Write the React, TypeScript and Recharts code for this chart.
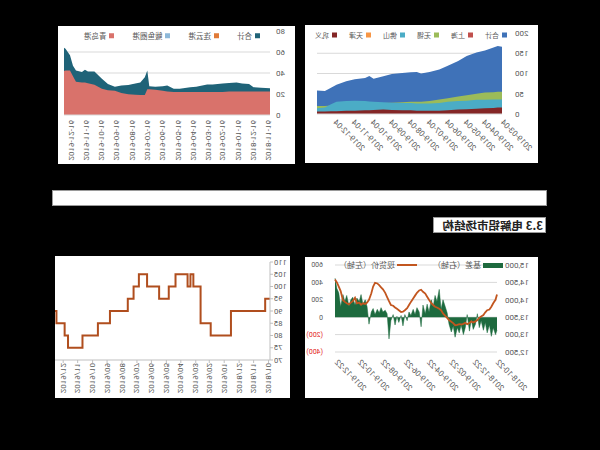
import {
  AreaChart,
  Area,
  ComposedChart,
  Line,
  LineChart,
  XAxis,
  YAxis,
  CartesianGrid,
} from "recharts";

const FONT = "Roboto, 'Noto Sans CJK SC', sans-serif";
const CJK = "'Noto Sans CJK SC', sans-serif";
const GREY = "#595959";
const GRID = "#d9d9d9";

const t = (d: string) => Date.parse(d);
const isoDay = (v: number) => new Date(v).toISOString().slice(0, 10);
const isoMonth = (v: number) => isoDay(v).slice(0, 7).replace("-", "/");

// 分地区社会库存
const cityNames = ["合计", "上海", "无锡", "佛山", "天津", "巩义"];
const cityDates = [
  "2019-03-04", "2019-03-11", "2019-03-18", "2019-04-01", "2019-04-15",
  "2019-05-01", "2019-05-15", "2019-06-01", "2019-06-15", "2019-07-01",
  "2019-07-15", "2019-07-22", "2019-08-01", "2019-08-15", "2019-09-01",
  "2019-09-15", "2019-10-01", "2019-10-08", "2019-10-15", "2019-11-01",
  "2019-11-15", "2019-12-01", "2019-12-10", "2019-12-20", "2020-01-02",
];
const cityTotal = [166, 168, 164, 157, 152, 143, 131, 119, 110, 104, 100, 104, 103, 101, 99, 93, 87, 94, 89, 86, 81, 72, 65, 57, 58];
const cityShanghai = [14, 14, 14, 13, 13, 12, 12, 11, 11, 10, 10, 10, 10, 10, 11, 11, 12, 12, 12, 12, 11, 11, 10, 10, 10];
const cityWuxi = [55, 55, 54, 53, 50, 46, 43, 39, 36, 32, 30, 30, 30, 29, 28, 27, 26, 26, 25, 24, 23, 22, 21, 20, 20];
const cityFoshan = [36, 36, 36, 35, 35, 33, 32, 30, 27, 26, 26, 26, 27, 27, 28, 29, 30, 31, 32, 33, 32, 30, 24, 16, 14];
const cityTianjin = [6, 6, 6, 5, 5, 5, 5, 4, 4, 4, 4, 4, 4, 4, 4, 4, 4, 4, 4, 4, 4, 3, 3, 3, 3];
const cityGongyi = [16, 16, 15, 14, 13, 12, 11, 9, 8, 8, 8, 8, 9, 9, 10, 11, 10, 9, 9, 8, 8, 7, 7, 6, 6];
const cityTicks = [
  "2019-03-04", "2019-04-04", "2019-05-04", "2019-06-04", "2019-07-04",
  "2019-08-04", "2019-09-04", "2019-10-04", "2019-11-04", "2019-12-04",
];

// 港口库存
const portNames = ["合计", "连云港", "鲅鱼圈港", "青岛港"];
const portDates = [
  "2018-11-13", "2018-12-01", "2018-12-16", "2018-12-25", "2019-01-08", "2019-01-19",
  "2019-02-03", "2019-02-16", "2019-03-08", "2019-03-19", "2019-04-10", "2019-04-22",
  "2019-05-13", "2019-05-25", "2019-06-07", "2019-06-16", "2019-07-01", "2019-07-13",
  "2019-07-17", "2019-07-22", "2019-07-31", "2019-08-10", "2019-08-24", "2019-09-07",
  "2019-09-20", "2019-10-04", "2019-10-16", "2019-10-31", "2019-11-13", "2019-11-19",
  "2019-11-25", "2019-12-07", "2019-12-13", "2019-12-19", "2019-12-28", "2019-12-31",
];
const portTotal = [25.5, 26, 26.5, 29.5, 30, 31, 30.5, 30, 29, 29, 27, 26.5, 25, 25, 28, 27.5, 27, 27.5, 42.5, 36, 31, 30, 28.5, 28, 27, 29.5, 34.5, 41.5, 41.5, 43, 41, 42.5, 47, 57, 63, 64];
const portLianyun = [2, 2, 2.5, 4, 4.5, 5, 5, 5, 4, 4, 3, 2.5, 2, 2, 3, 2.5, 2, 2, 10, 9, 7, 6, 5, 4, 2.5, 3.5, 5.5, 7, 6, 7, 6, 6, 6, 8, 11, 12];
const portBayuquan = [1, 1.5, 1.5, 3, 3, 3.5, 3, 3, 3, 3, 2, 2, 1, 1, 2.5, 2, 1, 1, 8, 8, 5, 4.8, 3.7, 3, 1.5, 2.5, 4, 5.7, 5.2, 5, 4, 4.9, 4, 6.5, 9.5, 10];
const portQingdao = [22.5, 22.5, 22.5, 22.5, 22.5, 22.5, 22.5, 22, 22, 22, 22, 22, 22, 22, 22.5, 23, 24, 24.5, 24.5, 19, 19, 19.2, 19.8, 21, 23, 23.5, 25, 28.8, 30.3, 31, 31, 31.6, 37, 42.5, 42.5, 42];
const portTicks = [
  "2018-11-16", "2018-12-16", "2019-01-16", "2019-02-16", "2019-03-16", "2019-04-16", "2019-05-16",
  "2019-06-16", "2019-07-16", "2019-08-16", "2019-09-16", "2019-10-16", "2019-11-16", "2019-12-16",
];

// 现货价与基差
const spotNames = ["基差（右轴）", "现货价（左轴）"];
const spotDates = [
  "2018-10-22", "2018-10-26", "2018-11-01", "2018-11-06", "2018-11-11", "2018-11-17", "2018-11-22",
  "2018-11-27", "2018-12-03", "2018-12-08", "2018-12-13", "2018-12-18", "2018-12-24", "2018-12-29",
  "2019-01-03", "2019-01-09", "2019-01-14", "2019-01-19", "2019-01-25", "2019-01-30", "2019-02-04",
  "2019-02-10", "2019-02-15", "2019-02-20", "2019-02-26", "2019-03-03", "2019-03-08", "2019-03-14",
  "2019-03-19", "2019-03-24", "2019-03-30", "2019-04-04", "2019-04-09", "2019-04-14", "2019-04-20",
  "2019-04-25", "2019-04-30", "2019-05-06", "2019-05-11", "2019-05-16", "2019-05-22", "2019-05-27",
  "2019-06-01", "2019-06-07", "2019-06-12", "2019-06-17", "2019-06-23", "2019-06-28", "2019-07-03",
  "2019-07-09", "2019-07-14", "2019-07-19", "2019-07-24", "2019-07-30", "2019-08-04", "2019-08-09",
  "2019-08-14", "2019-08-20", "2019-08-25", "2019-08-30", "2019-09-04", "2019-09-10", "2019-09-15",
  "2019-09-20", "2019-09-26", "2019-10-01", "2019-10-06", "2019-10-12", "2019-10-17", "2019-10-22",
  "2019-10-28", "2019-11-02", "2019-11-08", "2019-11-13", "2019-11-18", "2019-11-24", "2019-11-29",
  "2019-12-04", "2019-12-10", "2019-12-15", "2019-12-20", "2019-12-25",
];
const spotPrice = [
  14150, 14000, 13900, 13800, 13720, 13700, 13640, 13560, 13520, 13480, 13420, 13380, 13350, 13380,
  13330, 13300, 13340, 13310, 13290, 13300, 13280, 13270, 13330, 13370, 13420, 13480, 13540, 13610,
  13700, 13740, 13780, 13800, 13850, 13900, 14000, 14090, 14180, 14230, 14290, 14270, 14200, 14120,
  14040, 13940, 13850, 13760, 13700, 13660, 13650, 13700, 13740, 13780, 13830, 13850, 13960, 14080,
  14200, 14300, 14360, 14420, 14470, 14490, 14380, 14180, 14000, 13920, 13880, 13900, 13860, 13920,
  13900, 14060, 13960, 13920, 13870, 13900, 13940, 13990, 14250, 14380, 14500, 14580,
];
const spotBasis = [
  -150, -200, -120, -220, -90, -180, -60, -150, -40, -120, 40, -80, -140, -30,
  -160, 30, -120, -200, -90, -180, -120, -230, -100, -170, -80, 50, 120, 200,
  90, 320, 180, 250, 120, 200, 60, 150, 40, 140, -110, 60, 110, 30,
  90, 20, 60, -40, 30, -100, 20, -60, 10, -90, 30, -40, -250, 40,
  80, 60, 110, 50, 90, 30, 100, 60, -80, 120, 200, 150, 260, 180,
  220, 140, 230, 200, 130, 250, 180, 260, 120, 280, 330, 450,
];
const spotTicks = ["2018-10-22", "2018-12-22", "2019-02-22", "2019-04-22", "2019-06-22", "2019-08-22", "2019-10-22", "2019-12-22"];

// 阶梯走势
const stepDates = [
  "2018-09-28", "2018-10-08", "2018-12-18", "2019-01-29", "2019-02-19", "2019-03-06", "2019-03-12",
  "2019-03-18", "2019-04-12", "2019-04-26", "2019-05-16", "2019-06-10", "2019-06-27", "2019-07-08",
  "2019-07-20", "2019-08-26", "2019-09-20", "2019-10-22", "2019-11-21", "2019-11-28", "2019-12-15",
  "2019-12-18",
];
const stepValues = [95, 90, 80, 85, 100, 105, 100, 105, 100, 95, 100, 105, 100, 95, 90, 85, 80, 75, 80, 85, 90, 90];
const stepTicks = [
  "2018-10-01", "2018-11-01", "2018-12-01", "2019-01-01", "2019-02-01", "2019-03-01", "2019-04-01",
  "2019-05-01", "2019-06-01", "2019-07-01", "2019-08-01", "2019-09-01", "2019-10-01", "2019-11-01",
  "2019-12-01",
];

const cityColors = ["#3f72b8", "#c0504d", "#9bbb59", "#4bacc6", "#f79646", "#842626"];
const portColors = ["#1f6378", "#e07b39", "#8cb8d9", "#d9726b"];
const spotColors = ["#1d6a3e", "#c2561f"];

const cityRows = cityDates.map((d, i) => ({
  t: t(d),
  total: cityTotal[i],
  shanghai: cityShanghai[i],
  wuxi: cityWuxi[i],
  foshan: cityFoshan[i],
  tianjin: cityTianjin[i],
  gongyi: cityGongyi[i],
}));
const portRows = portDates.map((d, i) => ({
  t: t(d),
  total: portTotal[i],
  lianyun: portLianyun[i],
  bayuquan: portBayuquan[i],
  qingdao: portQingdao[i],
}));
const spotRows = spotDates.map((d, i) => ({ t: t(d), price: spotPrice[i], basis: spotBasis[i] }));
const stepRows = stepDates.map((d, i) => ({ t: t(d), v: stepValues[i] }));

function slantTick(angle: number, fmt: (v: number) => string, fontSize = 8) {
  return (p: any) => (
    <text
      x={p.x}
      y={p.y}
      transform={`rotate(${angle} ${p.x} ${p.y})`}
      textAnchor="end"
      dominantBaseline="central"
      fontSize={fontSize}
      fill={GREY}
      fontFamily={FONT}
    >
      {fmt(p.payload.value)}
    </text>
  );
}

const basisTick = (p: any) => {
  const v = p.payload.value;
  return (
    <text x={p.x} y={p.y} dy="0.35em" textAnchor="start" fontSize={7} fontFamily={FONT} fill={v < 0 ? "#e3231c" : GREY}>
      {v < 0 ? `(${-v})` : v}
    </text>
  );
};

type Key = { name: string; color: string; shape: "square" | "bar" | "line" };

function KeyRow({ keys, left, top, fontSize, gap }: { keys: Key[]; left: number; top: number; fontSize: number; gap: number }) {
  return (
    <div
      style={{
        position: "absolute",
        left,
        top,
        transform: "translateY(-50%)",
        display: "flex",
        alignItems: "center",
        fontFamily: CJK,
        fontSize,
        color: GREY,
        lineHeight: 1,
        whiteSpace: "nowrap",
      }}
    >
      {keys.map((k) => (
        <span key={k.name} style={{ display: "flex", alignItems: "center", marginRight: gap }}>
          <span
            style={{
              display: "inline-block",
              width: k.shape === "square" ? 5 : 20,
              height: k.shape === "line" ? 2 : 5,
              background: k.color,
              marginRight: k.shape === "square" ? 3 : 2,
            }}
          />
          {k.name}
        </span>
      ))}
    </div>
  );
}

function Panel({ left, top, width, height, children }: any) {
  return (
    <div style={{ position: "absolute", left, top, width, height, background: "#fff", overflow: "hidden" }}>
      {children}
    </div>
  );
}

const yTick = { fontSize: 8, fill: GREY, fontFamily: FONT };

function CityChart() {
  const keys: Key[] = cityNames.map((n, i) => ({ name: n, color: cityColors[i], shape: "square" }));
  const series = ["total", "shanghai", "wuxi", "foshan", "tianjin", "gongyi"];
  return (
    <>
      <AreaChart width={233} height={138} data={cityRows} margin={{ top: 8, right: 12, left: 0, bottom: 0 }}>
        <CartesianGrid vertical={false} stroke={GRID} horizontalValues={[50, 100, 150]} />
        <XAxis
          dataKey="t"
          type="number"
          domain={[t("2019-03-04"), t("2020-01-02")]}
          ticks={cityTicks.map(t)}
          interval={0}
          height={49}
          tickLine={false}
          tickSize={0}
          tickMargin={7}
          axisLine={{ stroke: GRID }}
          tick={slantTick(-45, isoDay)}
        />
        <YAxis width={36} domain={[0, 200]} ticks={[0, 50, 100, 150, 200]} interval={0} axisLine={false} tickLine={false} tickSize={10} tickMargin={3} tick={yTick} />
        {series.map((s, i) => (
          <Area key={s} type="linear" dataKey={s} name={cityNames[i]} stroke="none" fill={cityColors[i]} fillOpacity={1} dot={false} activeDot={false} isAnimationActive={false} />
        ))}
      </AreaChart>
      <KeyRow keys={keys} left={31} top={10} fontSize={7} gap={12} />
    </>
  );
}

function PortChart() {
  const keys: Key[] = portNames.map((n, i) => ({ name: n, color: portColors[i], shape: "square" }));
  const series = ["total", "lianyun", "bayuquan", "qingdao"];
  return (
    <>
      <AreaChart width={237} height={138} data={portRows} margin={{ top: 5, right: 6, left: 0, bottom: 0 }}>
        <CartesianGrid vertical={false} stroke={GRID} horizontalValues={[20, 40, 60]} />
        <XAxis
          dataKey="t"
          type="number"
          domain={[t("2018-11-13"), t("2019-12-31")]}
          ticks={portTicks.map(t)}
          interval={0}
          height={49}
          tickLine={false}
          tickSize={0}
          tickMargin={5}
          axisLine={{ stroke: GRID }}
          tick={slantTick(-90, isoDay)}
        />
        <YAxis width={25} domain={[0, 80]} ticks={[0, 20, 40, 60, 80]} interval={0} axisLine={false} tickLine={false} tickSize={4} tickMargin={2} tick={yTick} />
        {series.map((s, i) => (
          <Area key={s} type="linear" dataKey={s} name={portNames[i]} stroke="none" fill={portColors[i]} fillOpacity={1} dot={false} activeDot={false} isAnimationActive={false} />
        ))}
      </AreaChart>
      <KeyRow keys={keys} left={35} top={10} fontSize={7.5} gap={18} />
    </>
  );
}

function SpotChart() {
  const keys: Key[] = [
    { name: spotNames[0], color: spotColors[0], shape: "bar" },
    { name: spotNames[1], color: spotColors[1], shape: "line" },
  ];
  return (
    <>
      <ComposedChart width={233} height={141} data={spotRows} margin={{ top: 8, right: 0, left: 0, bottom: 0 }}>
        <CartesianGrid vertical={false} stroke={GRID} yAxisId="price" />
        <XAxis
          dataKey="t"
          type="number"
          domain={[t("2018-10-22"), t("2019-12-25")]}
          ticks={spotTicks.map(t)}
          interval={0}
          height={46}
          tickLine={false}
          axisLine={false}
          tickSize={0}
          tickMargin={9}
          tick={slantTick(-45, isoDay)}
        />
        <YAxis
          yAxisId="price"
          width={41}
          domain={[12500, 15000]}
          ticks={[12500, 13000, 13500, 14000, 14500, 15000]}
          interval={0}
          tickFormatter={(v: number) => v.toLocaleString("en-US")}
          axisLine={false}
          tickLine={false}
          tickSize={6}
          tickMargin={2}
          tick={yTick}
        />
        <YAxis
          yAxisId="basis"
          orientation="right"
          width={30}
          domain={[-400, 600]}
          ticks={[-400, -200, 0, 200, 400, 600]}
          interval={0}
          axisLine={false}
          tickLine={false}
          tickSize={8}
          tickMargin={4}
          tick={basisTick}
        />
        <Area yAxisId="basis" type="linear" dataKey="basis" name={spotNames[0]} stroke={spotColors[0]} strokeWidth={0.5} fill={spotColors[0]} fillOpacity={1} dot={false} activeDot={false} isAnimationActive={false} />
        <Line yAxisId="price" type="linear" dataKey="price" name={spotNames[1]} stroke={spotColors[1]} strokeWidth={1.8} dot={false} activeDot={false} isAnimationActive={false} />
      </ComposedChart>
      <KeyRow keys={keys} left={35} top={8} fontSize={8} gap={16} />
    </>
  );
}

function StepChart() {
  return (
    <LineChart width={235} height={142} data={stepRows} margin={{ top: 6, right: 0, left: 0, bottom: 0 }}>
      <XAxis
        dataKey="t"
        type="number"
        domain={[t("2018-09-28"), t("2019-12-18")]}
        ticks={stepTicks.map(t)}
        interval={0}
        height={38}
        axisLine={{ stroke: "#bfbfbf" }}
        tickLine={{ stroke: "#bfbfbf" }}
        tickSize={3}
        tickMargin={0}
        tick={slantTick(-90, isoMonth)}
      />
      <YAxis
        width={20}
        domain={[70, 110]}
        ticks={[70, 75, 80, 85, 90, 95, 100, 105, 110]}
        interval={0}
        axisLine={{ stroke: "#bfbfbf" }}
        tickLine={{ stroke: "#bfbfbf" }}
        tickSize={3}
        tickMargin={1}
        tick={{ fontSize: 7.5, fill: GREY, fontFamily: FONT }}
      />
      <Line type="stepAfter" dataKey="v" stroke="#b04e1e" strokeWidth={2} dot={false} activeDot={false} isAnimationActive={false} />
    </LineChart>
  );
}

export default function App() {
  return (
    <div style={{ position: "fixed", left: 0, top: 0, width: 600, height: 450, background: "#000", overflow: "hidden" }}>
      <div style={{ position: "absolute", left: 0, top: 0, width: 600, height: 450, transform: "scaleX(-1)" }}>
        <Panel left={62} top={25} width={233} height={138}>
          <CityChart />
        </Panel>
        <Panel left={305} top={26} width={237} height={138}>
          <PortChart />
        </Panel>
        <div style={{ position: "absolute", left: 53, top: 190, width: 495, height: 16, background: "#fff", border: "1px solid #9a9a9a", boxSizing: "border-box" }} />
        <div
          style={{
            position: "absolute",
            left: 54,
            top: 217,
            width: 113,
            height: 16,
            background: "#fff",
            border: "1px solid #9a9a9a",
            boxSizing: "border-box",
            fontFamily: CJK,
            fontWeight: 700,
            fontSize: 11.5,
            lineHeight: "14px",
            color: "#222",
            paddingLeft: 2,
            whiteSpace: "nowrap",
          }}
        >
          3.3 电解铝市场结构
        </div>
        <Panel left={62} top={257} width={233} height={141}>
          <SpotChart />
        </Panel>
        <Panel left={310} top={256} width={235} height={142}>
          <StepChart />
        </Panel>
      </div>
    </div>
  );
}
